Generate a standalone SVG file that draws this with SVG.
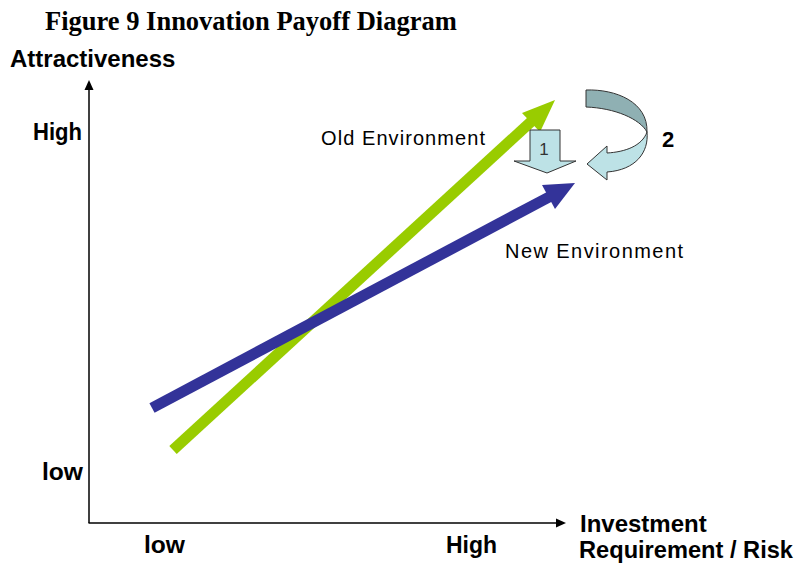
<svg xmlns="http://www.w3.org/2000/svg" width="799" height="564" viewBox="0 0 799 564">
  <style>
    .title { font-family: "Liberation Serif", "Times New Roman", serif; font-weight: bold; font-size: 26.5px; fill: #000; }
    .axis-label { font-family: "Liberation Sans", Arial, sans-serif; font-weight: bold; font-size: 24px; fill: #000; }
    .tick { font-family: "Liberation Sans", Arial, sans-serif; font-weight: bold; font-size: 23px; fill: #000; }
    .env { font-family: "Liberation Sans", Arial, sans-serif; font-size: 20px; fill: #000; }
    .axis { stroke: #000; stroke-width: 1.5; fill: none; }
    .axis-head { fill: #000; }
    .block { stroke: #333; stroke-width: 1; stroke-linejoin: miter; }
  </style>

  <rect width="799" height="564" fill="#fff"/>

  <text class="title" x="45" y="30">Figure 9 Innovation Payoff Diagram</text>

  <!-- axes -->
  <g id="axes">
    <line class="axis" x1="89" y1="523" x2="89" y2="88"/>
    <polygon class="axis-head" points="89,80 84.5,90 93.5,90"/>
    <line class="axis" x1="88.5" y1="523" x2="558" y2="523"/>
    <polygon class="axis-head" points="566,523 556,518.5 556,527.5"/>
    <text class="axis-label" x="10" y="67">Attractiveness</text>
    <text class="tick" x="33" y="140" textLength="49" lengthAdjust="spacingAndGlyphs">High</text>
    <text class="tick" x="42" y="480" textLength="41" lengthAdjust="spacingAndGlyphs">low</text>
    <text class="tick" x="144" y="553" textLength="41" lengthAdjust="spacingAndGlyphs">low</text>
    <text class="tick" x="446" y="553" textLength="51" lengthAdjust="spacingAndGlyphs">High</text>
    <text class="axis-label" x="580" y="532">Investment</text>
    <text class="axis-label" x="579" y="558" font-size="23" textLength="214" lengthAdjust="spacingAndGlyphs">Requirement / Risk</text>
  </g>

  <!-- trend lines -->
  <g id="old-environment">
    <line x1="173" y1="450" x2="534" y2="119" stroke="#99cc00" stroke-width="11"/>
    <polygon points="555,100 522,113 540,132" fill="#99cc00"/>
    <text class="env" x="321" y="145" textLength="164" lengthAdjust="spacing">Old Environment</text>
  </g>

  <g id="new-environment">
    <line x1="152" y1="408" x2="551" y2="196" stroke="#333399" stroke-width="11"/>
    <polygon points="575,183 542,185 555,209" fill="#333399"/>
    <text class="env" x="505" y="258" textLength="178" lengthAdjust="spacing">New Environment</text>
  </g>

  <!-- shift 1: straight down -->
  <g id="shift-1">
    <path class="block" d="M530,130 L560,130 L560,161 L576,161 L547,173 L514,161 L530,161 Z" fill="#bde2e6"/>
    <text x="544" y="155" text-anchor="middle" font-family="'Liberation Sans', Arial, sans-serif" font-size="17" fill="#333">1</text>
  </g>

  <!-- shift 2: curved turn-around -->
  <g id="shift-2">
    <path class="block" d="M586,90 C616,89 648,102 647,132 C640,119 615,108 586,107 Z" fill="#8fb0b3"/>
    <path class="block" d="M647,132 C649,152 636,170 607,172 L607,180 L587,164 L607,146 L607,153 C625,152 642,146 647,132 Z" fill="#bde2e6"/>
    <text x="662" y="147" font-family="'Liberation Sans', Arial, sans-serif" font-weight="bold" font-size="22" fill="#000">2</text>
  </g>
</svg>
